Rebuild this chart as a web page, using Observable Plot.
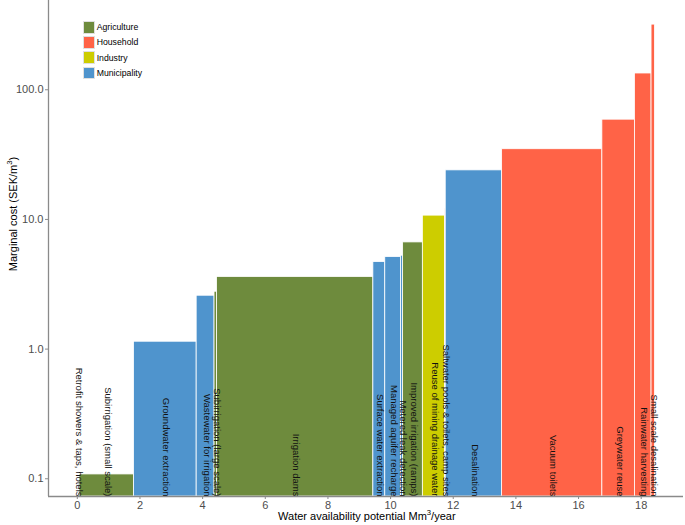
<!DOCTYPE html>
<html>
<head>
<meta charset="utf-8">
<script src="https://cdn.jsdelivr.net/npm/d3@7"></script>
<script src="https://cdn.jsdelivr.net/npm/@observablehq/plot@0.6"></script>
<style>
  body { margin: 0; background: white; }
  #wrap { position: relative; width: 685px; height: 525px; font-family: "Liberation Sans", Arial, sans-serif; }
  .ov { position: absolute; white-space: nowrap; color: #000; }
  .legend-row { position: absolute; display: flex; align-items: center; font-size: 8.7px; }
  .key { width: 12.5px; height: 12.5px; border: 0.5px solid #e0e0e0; box-sizing: border-box; margin-right: 1.5px; }
  sup { font-size: 70%; line-height: 0; }
</style>
</head>
<body>
<div id="wrap"></div>
<script>
// ---- data ----
const measures = [
  "Retrofit showers & taps, hotels",
  "Subirrigation (small scale)",
  "Groundwater extraction",
  "Wastewater for irrigation",
  "Subirrigation (large scale)",
  "Irrigation dams",
  "Surface water extraction",
  "Managed aquifer recharge",
  "Metered leak detection",
  "Improved irrigation (ramps)",
  "Reuse of mining drainage water",
  "Saltwater pools & toilets, camp sites",
  "Desalination",
  "Vacuum toilets",
  "Greywater reuse",
  "Rainwater harvesting",
  "Small scale desalination"
];
const sectorOf = [
  "Household", "Agriculture", "Municipality", "Municipality", "Agriculture",
  "Agriculture", "Municipality", "Municipality", "Municipality", "Agriculture",
  "Industry", "Household", "Municipality", "Household", "Household",
  "Household", "Household"
];
// water availability potential (Mm3/year) per measure
const potential = [0.07, 1.74, 2.00, 0.57, 0.08, 4.99, 0.38, 0.50, 0.07, 0.63, 0.71, 0.02, 1.80, 3.20, 1.04, 0.53, 0.11];
// marginal cost (SEK/m3)
const cost = [0.05, 0.108, 1.14, 2.58, 2.77, 3.6, 4.69, 5.13, 5.25, 6.65, 10.7, 12, 23.9, 34.8, 58.8, 133.5, 318];

const sectors = ["Agriculture", "Household", "Industry", "Municipality"];
const sectorColors = ["#6E8B3D", "#FF6347", "#CDCD00", "#4F94CD"];
const xTicks = [0, 2, 4, 6, 8, 10, 12, 14, 16, 18];
const yTicks = [0.1, 1, 10, 100];
const xDomain = [-0.92, 19.35];
const yDomain = [0.073, 488];

// ---- build table ----
const ends = d3.cumsum(potential);
const rows = measures.map((m, i) => ({
  measure: m,
  sector: sectorOf[i],
  x1: ends[i] - potential[i],
  x2: ends[i],
  cost: cost[i]
}));

const chart = Plot.plot({
  width: 685,
  height: 525,
  marginLeft: 48,
  marginRight: 2,
  marginTop: 0,
  marginBottom: 29,
  style: { fontFamily: "'Liberation Sans', Arial, sans-serif", fontSize: "11px", background: "white", overflow: "visible" },
  x: { domain: xDomain },
  y: { type: "log", domain: yDomain },
  color: { domain: sectors, range: sectorColors },
  marks: [
    Plot.rect(rows.filter(d => d.cost > yDomain[0]), {
      x1: "x1", x2: "x2", y1: yDomain[0], y2: "cost",
      fill: "sector", stroke: "white", strokeWidth: 0.8
    }),
    Plot.text(rows, {
      x: d => (d.x1 + d.x2) / 2, y: yDomain[0],
      text: "measure", rotate: 90, textAnchor: "end", lineAnchor: "middle",
      fontSize: 9.5, fill: "#111", dx: 1
    }),
    Plot.ruleX([xDomain[0]], { stroke: "#8a8a8a", strokeWidth: 1.3 }),
    Plot.ruleY([yDomain[0]], { stroke: "#8a8a8a", strokeWidth: 1.3 }),
    Plot.axisX({ ticks: xTicks, tickSize: 3, tickPadding: 2, stroke: "#8a8a8a", fill: "#4d4d4d", label: null, fontSize: 11 }),
    Plot.axisY({ ticks: yTicks, tickFormat: d3.format(".1f"), tickSize: 3, tickPadding: 2, stroke: "#8a8a8a", fill: "#4d4d4d", label: null, fontSize: 11 })
  ]
});

const wrap = document.getElementById("wrap");
wrap.appendChild(chart);

// axis titles
const yt = document.createElement("div");
yt.className = "ov";
yt.style.cssText = "left:13.3px;top:213.5px;font-size:11px;transform:translate(-50%,-50%) rotate(-90deg);";
yt.innerHTML = "Marginal cost (SEK/m<sup>3</sup>)";
wrap.appendChild(yt);

const xt = document.createElement("div");
xt.className = "ov";
xt.style.cssText = "left:366.8px;top:516px;font-size:11px;transform:translate(-50%,-50%);";
xt.innerHTML = "Water availability potential Mm<sup>3</sup>/year";
wrap.appendChild(xt);

// legend
sectors.forEach((s, i) => {
  const row = document.createElement("div");
  row.className = "legend-row";
  row.style.left = "82.7px";
  row.style.top = (21 + i * 15.2) + "px";
  const key = document.createElement("div");
  key.className = "key";
  key.style.background = sectorColors[i];
  const lab = document.createElement("span");
  lab.textContent = s;
  row.appendChild(key);
  row.appendChild(lab);
  wrap.appendChild(row);
});
</script>
</body>
</html>
